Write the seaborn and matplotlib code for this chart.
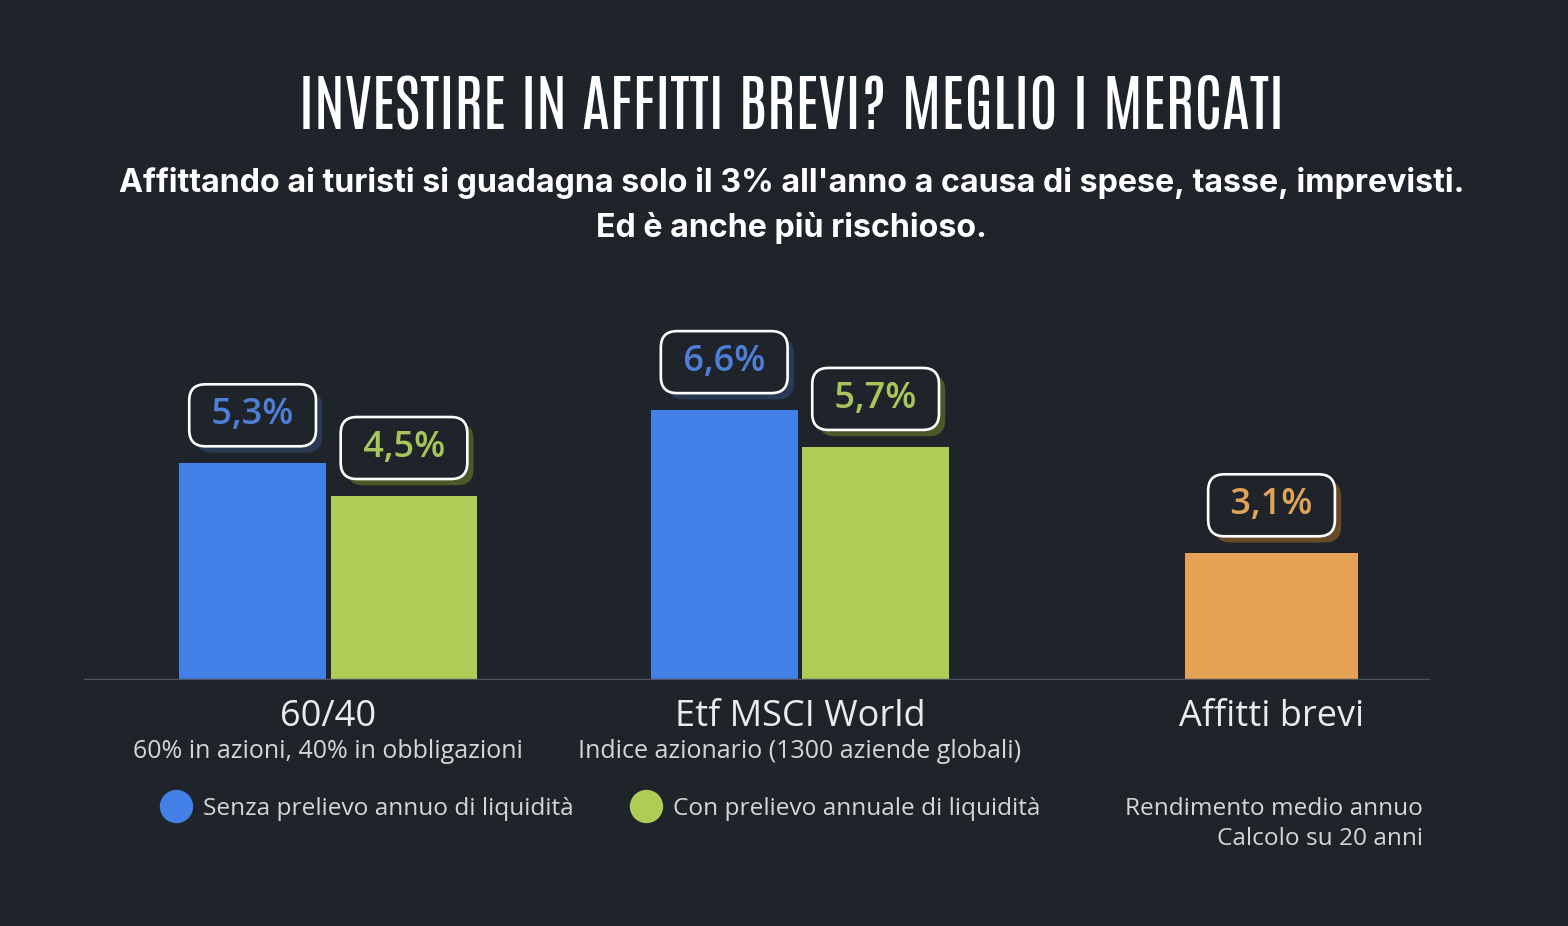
import pandas as pd
import seaborn as sns
import matplotlib.pyplot as plt
import matplotlib.transforms as mtransforms
import matplotlib.patheffects as pe
from matplotlib.lines import Line2D

# Data
groups = ['60/40', 'Etf MSCI World', 'Affitti brevi']
group_notes = ['60% in azioni, 40% in obbligazioni', 'Indice azionario (1300 aziende globali)']
series = ['Senza prelievo annuo di liquidità', 'Con prelievo annuale di liquidità']
senza = [5.3, 6.6]
con = [4.5, 5.7]
affitti = [3.1]

bg = '#1f242b'
blue = '#4380e8'
green = '#aecd57'
orange = '#e4a254'
blue_txt = '#4d7fd6'
green_txt = '#a9c55a'
orange_txt = '#dfa458'
shadows = {blue: '#2a3a55', green: '#4c5828', orange: '#684a27'}

sns.set_theme(style='dark', rc={'axes.facecolor': bg, 'figure.facecolor': bg,
                                'savefig.facecolor': bg})
plt.rcParams['font.family'] = ['Open Sans', 'DejaVu Sans']

df = pd.DataFrame({
    'gruppo': groups[:2] * 2,
    'serie': [series[0]] * 2 + [series[1]] * 2,
    'rendimento': senza + con,
})
df_aff = pd.DataFrame({'gruppo': groups[2:], 'rendimento': affitti})

fig = plt.figure(figsize=(15.68, 9.26), dpi=100)
ax = fig.add_axes([84 / 1568, 246 / 926, 1346 / 1568, 380 / 926])

sns.barplot(data=df, x='gruppo', y='rendimento', hue='serie', order=groups,
            hue_order=series, palette=[blue, green], width=0.642, gap=0.03,
            saturation=1, legend=False, linewidth=0, ax=ax)
sns.barplot(data=df_aff, x='gruppo', y='rendimento', order=groups, color=orange,
            width=0.365, saturation=1, linewidth=0, ax=ax)

ax.set_xlim(-0.518, 2.336)
ax.set_ylim(0, 9.29)
ax.axhline(0, color='#50555d', lw=2.5, zorder=5)
for s in ax.spines.values():
    s.set_visible(False)
ax.set_yticks([])
ax.set_xlabel('')
ax.set_ylabel('')
ax.tick_params(axis='x', length=0, pad=14, labelsize=26, labelcolor='#ececec')

# value boxes above bars, with a coloured drop shadow on the box
values_all = [senza, con, affitti]
colors_all = [(blue, blue_txt), (green, green_txt), (orange, orange_txt)]
for cont, vals, (bar_col, txt_col) in zip(ax.containers, values_all, colors_all):
    for patch, v in zip(cont.patches, vals):
        xc = patch.get_x() + patch.get_width() / 2
        lab = ' ' + f'{v:.1f}%'.replace('.', ',') + ' '
        ann = ax.annotate(lab, (xc, v), xytext=(0, 34.5), textcoords='offset points',
                          ha='center', va='center', fontsize=26, fontweight=600,
                          color=txt_col, zorder=7,
                          bbox=dict(boxstyle='round,pad=0.36,rounding_size=0.45',
                                    fc=bg, ec='white', lw=1.9))
        ann.get_bbox_patch().set_path_effects([
            pe.SimplePatchShadow(offset=(4.5, -4.5), shadow_rgbFace=shadows[bar_col], alpha=1),
            pe.Normal()])

# sub labels under the category names
tr = mtransforms.blended_transform_factory(ax.transData, fig.transFigure)
for i, note in enumerate(group_notes):
    ax.text(i, 175 / 926, note, transform=tr, ha='center', va='center',
            fontsize=18, color='#d6d6d6')

# legend with round markers
handles = [Line2D([0], [0], marker='o', ls='none', markersize=23,
                  markerfacecolor=c, markeredgecolor=c) for c in (blue, green)]
fig.legend(handles, series, loc='center left', bbox_to_anchor=(136 / 1568, 117 / 926),
           ncol=2, frameon=False, fontsize=17.6, labelcolor='#d6d6d6',
           handletextpad=0.35, columnspacing=2.2, handlelength=1.5)

fig.text(1423 / 1568, 102 / 926, 'Rendimento medio annuo\nCalcolo su 20 anni',
         ha='right', va='center', fontsize=17.6, color='#d6d6d6',
         multialignment='right', linespacing=1.3)

fig.text(0.505, 0.8855, 'INVESTIRE IN AFFITTI BREVI? MEGLIO I MERCATI',
         ha='center', va='center', fontsize=45, color='white',
         family=['Antonio', 'League Gothic', 'Oswald', 'IBM Plex Sans Condensed', 'DejaVu Sans'])
fig.text(0.505, 0.8024, "Affittando ai turisti si guadagna solo il 3% all'anno a causa di spese, tasse, imprevisti.",
         ha='center', va='center', fontsize=23.2, fontweight='bold', color='white',
         family=['Inter', 'DejaVu Sans'])
fig.text(0.505, 0.7538, 'Ed è anche più rischioso.',
         ha='center', va='center', fontsize=23.2, fontweight='bold', color='white',
         family=['Inter', 'DejaVu Sans'])

fig.savefig('out.png', dpi=100)
